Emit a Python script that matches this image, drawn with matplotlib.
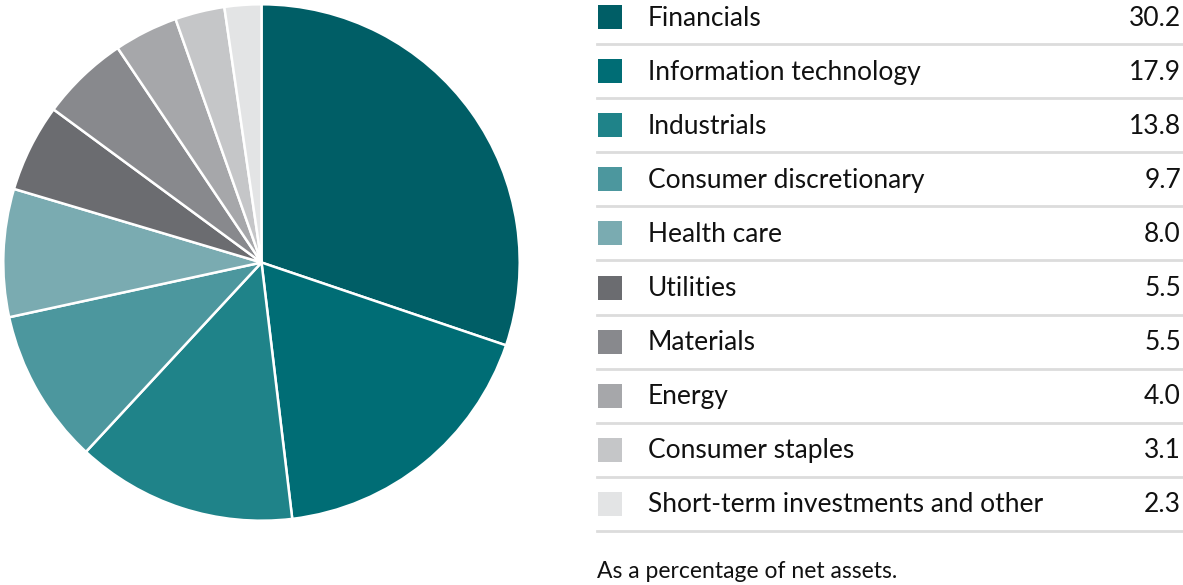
import matplotlib.pyplot as plt
from matplotlib.patches import Rectangle

sectors = ["Financials", "Information technology", "Industrials",
           "Consumer discretionary", "Health care", "Utilities", "Materials",
           "Energy", "Consumer staples", "Short-term investments and other"]
weights = [30.2, 17.9, 13.8, 9.7, 8.0, 5.5, 5.5, 4.0, 3.1, 2.3]
colors = ["#005e66", "#006d75", "#1f8389", "#4c979e", "#7aabb1",
          "#6b6c70", "#88898d", "#a6a7aa", "#c5c6c8", "#e3e4e5"]
note = "As a percentage of net assets."

W, H = 1183, 585
fig = plt.figure(figsize=(W / 100, H / 100), dpi=100)
plt.rcParams['font.family'] = ['Lato', 'DejaVu Sans']

# pie on the left
ax = fig.add_axes([2 / W, (H - 522) / H, 519 / W, 519 / H])
ax.pie(weights, colors=colors, startangle=90, counterclock=False,
       wedgeprops=dict(edgecolor="white", linewidth=1.8))
ax.set_xlim(-1.005, 1.005)
ax.set_ylim(-1.005, 1.005)
ax.set_aspect("equal")

# legend table on the right, in pixel coords
lg = fig.add_axes([0, 0, 1, 1])
lg.set_xlim(0, W)
lg.set_ylim(H, 0)
lg.axis("off")

row_h = 54.1
y0 = 17
for i, (name, val, c) in enumerate(zip(sectors, weights, colors)):
    y = y0 + i * row_h
    lg.add_patch(Rectangle((598, y - 12), 24, 24, color=c, lw=0))
    lg.text(648, y + 1, name, fontsize=19, va="center", ha="left", color="#111111")
    lg.text(1181, y + 1, f"{val:.1f}", fontsize=19, va="center", ha="right", color="#111111")
    lg.plot([597, 1183], [y + 27, y + 27], color="#dcdcdc", lw=2)

lg.text(597, 571, note, fontsize=16.5, va="center", ha="left", color="#111111")

fig.savefig("out.png", dpi=100)
